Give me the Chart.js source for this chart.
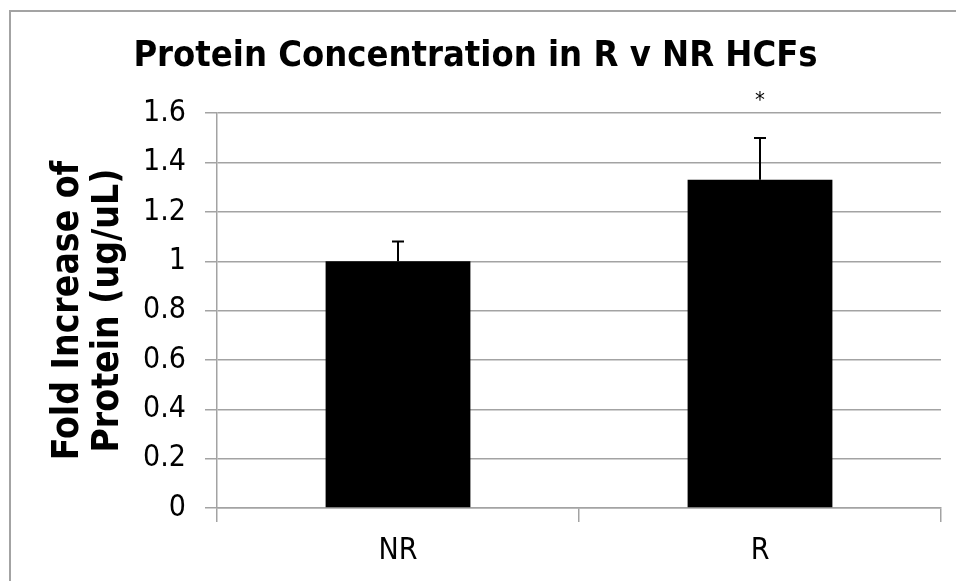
<!DOCTYPE html>
<html>
<head>
<meta charset="utf-8">
<script src="https://cdn.jsdelivr.net/npm/chart.js@4/dist/chart.umd.min.js"></script>
<style>
  html, body { margin: 0; padding: 0; background: #fff; }
  #wrap { width: 956px; height: 581px; }
</style>
</head>
<body>
<div id="wrap"><canvas id="myChart" width="956" height="581"></canvas></div>
<script>
// chart values
var groups = ["NR", "R"];
var foldIncrease = [1.0, 1.33];
var errorUp = [0.08, 0.17];
var significance = ["", "*"];
var yTicks = [0, 0.2, 0.4, 0.6, 0.8, 1, 1.2, 1.4, 1.6];

var fontName = "'DejaVu Sans Condensed', 'DejaVu Sans', Tahoma, sans-serif";

// outer frame like the office chart border
var framePlugin = {
    id: "frame",
    beforeDraw: function (chart) {
        var ctx = chart.ctx;
        ctx.save();
        ctx.fillStyle = "#fff";
        ctx.fillRect(0, 0, chart.width, chart.height);
        ctx.strokeStyle = "#a3a3a3";
        ctx.lineWidth = 2;
        ctx.beginPath();
        ctx.moveTo(10, chart.height + 5);
        ctx.lineTo(10, 11);
        ctx.lineTo(chart.width + 5, 11);
        ctx.stroke();
        ctx.restore();
    }
};

// error bars (upper only) and the significance star
var errorPlugin = {
    id: "errorBars",
    afterDatasetsDraw: function (chart) {
        var ctx = chart.ctx;
        var y = chart.scales.y;
        var meta = chart.getDatasetMeta(0);
        ctx.save();
        ctx.strokeStyle = "#000";
        ctx.lineWidth = 2;
        meta.data.forEach(function (bar, i) {
            var top = y.getPixelForValue(foldIncrease[i] + errorUp[i]);
            var base = y.getPixelForValue(foldIncrease[i]);
            ctx.beginPath();
            ctx.moveTo(bar.x, base);
            ctx.lineTo(bar.x, top);
            ctx.moveTo(bar.x - 6, top);
            ctx.lineTo(bar.x + 6, top);
            ctx.stroke();
            if (significance[i]) {
                ctx.fillStyle = "#000";
                ctx.font = "22px " + fontName;
                ctx.textAlign = "center";
                ctx.textBaseline = "middle";
                ctx.fillText(significance[i], bar.x, top - 37);
            }
        });
        ctx.restore();
    }
};

var ctx = document.getElementById("myChart").getContext("2d");
window.myChart = new Chart(ctx, {
    type: "bar",
    data: {
        labels: groups,
        datasets: [{
            data: foldIncrease,
            backgroundColor: "#000",
            borderWidth: 0,
            categoryPercentage: 1.0,
            barPercentage: 0.4
        }]
    },
    options: {
        responsive: false,
        animation: false,
        layout: { padding: { left: 10, right: 15, top: 12, bottom: 0 } },
        plugins: {
            legend: { display: false },
            tooltip: { enabled: false },
            title: {
                display: true,
                text: "Protein Concentration in R v NR HCFs",
                color: "#000",
                font: { family: fontName, size: 36, weight: "bold", lineHeight: 1.2 },
                padding: { top: 23, bottom: 35 }
            }
        },
        scales: {
            x: {
                offset: true,
                afterFit: function (axis) {
                    axis.height = 73;
                },
                grid: {
                    offset: true,
                    drawOnChartArea: false,
                    color: "#a3a3a3",
                    lineWidth: 1.5,
                    tickLength: 14
                },
                border: { color: "#a3a3a3", width: 1.5 },
                ticks: {
                    color: "#000",
                    font: { family: fontName, size: 30 },
                    padding: 11
                }
            },
            y: {
                min: 0,
                max: 1.6,
                afterBuildTicks: function (axis) {
                    axis.ticks = yTicks.map(function (v) { return { value: v }; });
                },
                afterFit: function (axis) {
                    axis.width = 207;
                },
                grid: {
                    color: "#a3a3a3",
                    lineWidth: 1.5,
                    tickLength: 12
                },
                border: { color: "#a3a3a3", width: 1.5 },
                ticks: {
                    color: "#000",
                    font: { family: fontName, size: 30 },
                    padding: 19,
                    callback: function (v) { return String(Math.round(v * 10) / 10); }
                },
                title: {
                    display: true,
                    text: ["Fold Increase of", "Protein (ug/uL)"],
                    color: "#000",
                    font: { family: fontName, size: 37, weight: "bold", lineHeight: 1.08 },
                    padding: { top: 38, bottom: 4 }
                }
            }
        }
    },
    plugins: [framePlugin, errorPlugin]
});
</script>
</body>
</html>
